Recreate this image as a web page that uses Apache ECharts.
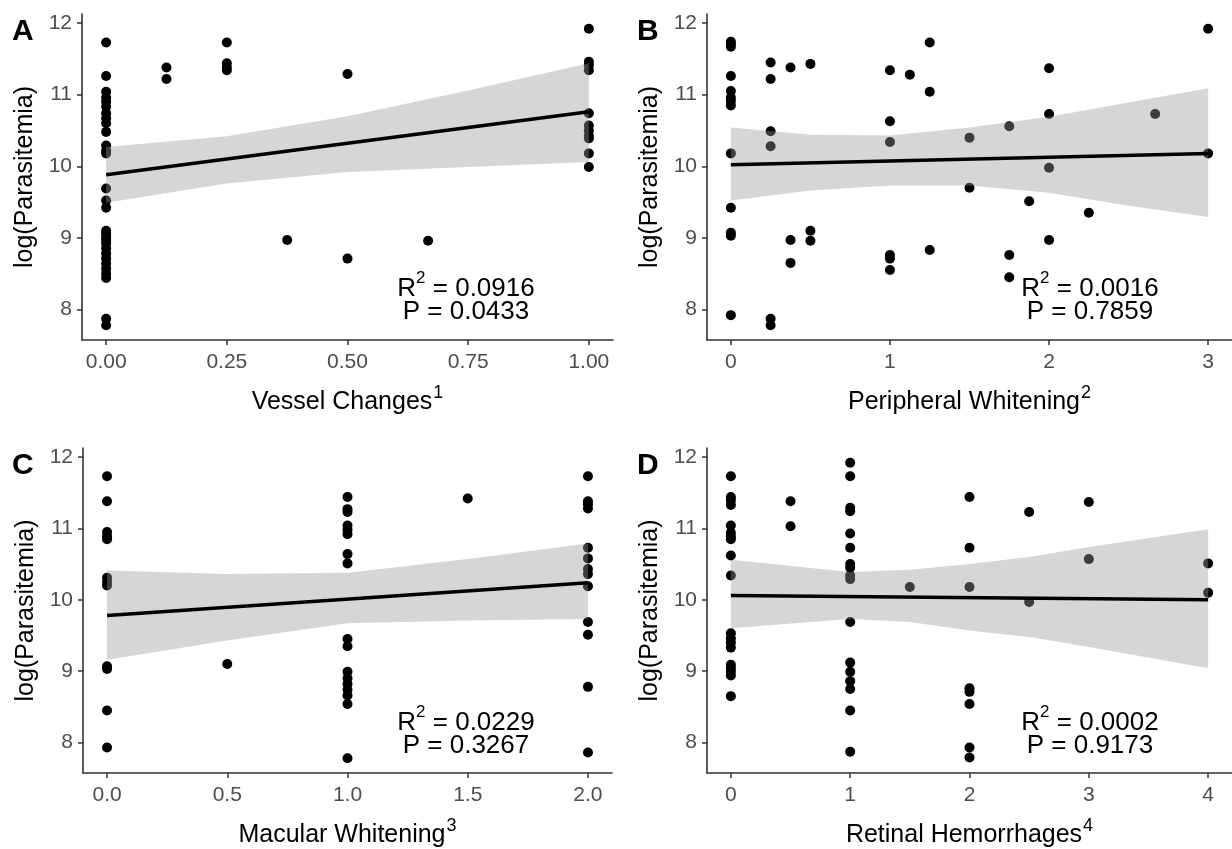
<!DOCTYPE html>
<html>
<head>
<meta charset="utf-8">
<script src="https://cdn.jsdelivr.net/npm/echarts@6/dist/echarts.min.js"></script>
<style>
html,body{margin:0;padding:0;background:#fff;}
#chart{width:1232px;height:849px;}
</style>
</head>
<body>
<div id="chart"></div>
<script>
// ---------- Data ----------
// Panel A: Vessel Changes
var vesselX = [0,0,0,0,0,0,0,0,0,0,0,0,0,0,0,0,0,0,0,0,0,0,0,0,0,0,0,0,0,0,
  0.125,0.125, 0.25,0.25,0.25,0.25, 0.375, 0.5,0.5, 0.667,
  1,1,1,1,1,1,1,1,1,1,1];
var vesselY = [11.73,11.26,11.04,10.96,10.90,10.83,10.74,10.67,10.60,10.48,10.29,10.22,10.18,9.69,9.52,9.42,9.10,9.06,9.01,8.97,8.92,8.85,8.78,8.71,8.64,8.57,8.50,8.44,7.87,7.78,
  11.38,11.22, 11.73,11.44,11.38,11.34, 8.97, 11.29,8.71, 8.96,
  11.92,11.46,11.41,11.34,10.74,10.57,10.50,10.43,10.39,10.18,9.99];
var vesselFitX = [0, 1];
var vesselFitY = [9.88, 10.76];
var vesselBandX = [0, 0.25, 0.5, 0.75, 1];
var vesselBandUp = [10.27, 10.42, 10.70, 11.06, 11.44];
var vesselBandLo = [9.49, 9.76, 9.92, 9.99, 10.06];

// Panel B: Peripheral Whitening
var periphX = [0,0,0,0,0,0,0,0,0,0,0,0,0,
  0.25,0.25,0.25,0.25,0.25,0.25, 0.375,0.375,0.375, 0.5,0.5,0.5,
  1,1,1,1,1,1, 1.125, 1.25,1.25,1.25, 1.5,1.5, 1.75,1.75,1.75, 1.875,
  2,2,2,2, 2.25, 2.667, 3,3];
var periphY = [11.74,11.71,11.67,11.26,11.05,10.96,10.91,10.85,10.18,9.42,9.07,9.03,7.92,
  11.45,11.22,10.49,10.28,7.87,7.78, 11.38,8.97,8.65, 11.43,9.10,8.96,
  11.34,10.63,10.34,8.76,8.71,8.55, 11.28, 11.73,11.04,8.83, 10.40,9.70, 10.56,8.76,8.45, 9.51,
  11.37,10.73,9.98,8.97, 9.35, 10.73, 11.92,10.18];
var periphFitX = [0, 3];
var periphFitY = [10.02, 10.18];
var periphBandX = [0, 0.5, 1, 1.5, 2, 2.5, 3];
var periphBandUp = [10.54, 10.44, 10.43, 10.54, 10.69, 10.89, 11.09];
var periphBandLo = [9.52, 9.66, 9.73, 9.73, 9.63, 9.45, 9.29];

// Panel C: Macular Whitening
var macularX = [0,0,0,0,0,0,0,0,0,0,0,0,
  0.5,
  1,1,1,1,1,1,1,1,1,1,1,1,1,1,1,1,1,
  1.5,
  2,2,2,2,2,2,2,2,2,2,2,2,2];
var macularY = [11.73,11.38,10.95,10.89,10.85,10.31,10.25,10.20,9.07,9.03,8.45,7.93,
  9.10,
  11.44,11.27,11.23,11.04,10.98,10.92,10.64,10.51,9.45,9.35,8.99,8.90,8.82,8.74,8.66,8.54,7.78,
  11.42,
  11.73,11.38,11.34,11.28,10.73,10.58,10.43,10.36,10.19,9.69,9.51,8.78,7.86];
var macularFitX = [0, 2];
var macularFitY = [9.78, 10.24];
var macularBandX = [0, 0.5, 1, 1.5, 2];
var macularBandUp = [10.41, 10.36, 10.38, 10.57, 10.79];
var macularBandLo = [9.16, 9.43, 9.67, 9.71, 9.73];

// Panel D: Retinal Hemorrhages
var hemX = [0,0,0,0,0,0,0,0,0,0,0,0,0,0,0,0,0,0,0,
  0.5,0.5,
  1,1,1,1,1,1,1,1,1,1,1,1,1,1,1,1,1,
  1.5,
  2,2,2,2,2,2,2,2,
  2.5,2.5, 3,3, 4,4];
var hemY = [11.73,11.44,11.40,11.33,11.04,10.94,10.89,10.85,10.62,10.34,9.53,9.46,9.40,9.33,9.09,9.04,8.99,8.94,8.65,
  11.38,11.03,
  11.92,11.73,11.29,11.24,10.93,10.73,10.50,10.45,10.34,10.29,9.69,9.12,8.99,8.86,8.75,8.45,7.87,
  10.18,
  11.44,10.73,10.18,8.76,8.71,8.54,7.93,7.79,
  11.23,9.97, 11.37,10.57, 10.51,10.10];
var hemFitX = [0, 4];
var hemFitY = [10.06, 10.00];
var hemBandX = [0, 1, 1.5, 2, 2.5, 3, 4];
var hemBandUp = [10.56, 10.39, 10.42, 10.50, 10.60, 10.74, 10.99];
var hemBandLo = [9.60, 9.73, 9.69, 9.57, 9.48, 9.34, 9.04];

// Axis ticks / labels
var yTicks = [8, 9, 10, 11, 12];
var vesselTicks = [0, 0.25, 0.5, 0.75, 1];
var periphTicks = [0, 1, 2, 3];
var macularTicks = [0, 0.5, 1, 1.5, 2];
var hemTicks = [0, 1, 2, 3, 4];
var yRange = [7.573, 12.127];

var panelLetters = ['A', 'B', 'C', 'D'];
var xTitles = ['Vessel Changes', 'Peripheral Whitening', 'Macular Whitening', 'Retinal Hemorrhages'];
var xTitleSup = ['1', '2', '3', '4'];
var yTitle = 'log(Parasitemia)';
var r2Text = ['0.0916', '0.0016', '0.0229', '0.0002'];
var pText = ['0.0433', '0.7859', '0.3267', '0.9173'];

// ---------- Build chart ----------
var FONT = "'Liberation Sans', Arial, sans-serif";
var panels = [
  {x: vesselX, y: vesselY, fx: vesselFitX, fy: vesselFitY, bx: vesselBandX, bu: vesselBandUp, bl: vesselBandLo,
   ticks: vesselTicks, range: [-0.05, 1.05], fmt: function (v) { return v.toFixed(2); },
   grid: {left: 82, top: 14, width: 531, height: 326}, ann: [466, 302], letter: [12, 17]},
  {x: periphX, y: periphY, fx: periphFitX, fy: periphFitY, bx: periphBandX, bu: periphBandUp, bl: periphBandLo,
   ticks: periphTicks, range: [-0.15, 3.15], fmt: function (v) { return String(v); },
   grid: {left: 707, top: 14, width: 528, height: 326}, ann: [1090, 302], letter: [637, 17]},
  {x: macularX, y: macularY, fx: macularFitX, fy: macularFitY, bx: macularBandX, bu: macularBandUp, bl: macularBandLo,
   ticks: macularTicks, range: [-0.1, 2.1], fmt: function (v) { return v.toFixed(1); },
   grid: {left: 83, top: 448, width: 529, height: 327}, ann: [466, 736], letter: [12, 451]},
  {x: hemX, y: hemY, fx: hemFitX, fy: hemFitY, bx: hemBandX, bu: hemBandUp, bl: hemBandLo,
   ticks: hemTicks, range: [-0.2, 4.2], fmt: function (v) { return String(v); },
   grid: {left: 707, top: 448, width: 528, height: 327}, ann: [1090, 736], letter: [637, 451]}
];

var grids = [], xAxes = [], yAxes = [], series = [], graphics = [];
panels.forEach(function (p, i) {
  grids.push(p.grid);
  xAxes.push({
    type: 'value', gridIndex: i, min: p.range[0], max: p.range[1],
    name: '{m|' + xTitles[i] + '}{s|' + xTitleSup[i] + '}',
    nameLocation: 'middle', nameGap: 44,
    nameTextStyle: {
      color: '#000', fontFamily: FONT, fontSize: 25,
      rich: {
        m: {fontSize: 25, fontFamily: FONT, color: '#000', padding: [6, 0, 0, 0], verticalAlign: 'bottom'},
        s: {fontSize: 18, fontFamily: FONT, color: '#000', verticalAlign: 'top', padding: [0, 0, 0, 1]}
      }
    },
    axisLine: {show: true, onZero: false, lineStyle: {color: '#333', width: 1.6}},
    axisTick: {show: true, length: 5, customValues: p.ticks, lineStyle: {color: '#333', width: 1.5}},
    axisLabel: {show: true, customValues: p.ticks, formatter: p.fmt, color: '#4d4d4d', fontSize: 21, fontFamily: FONT, margin: 12},
    splitLine: {show: false}
  });
  yAxes.push({
    type: 'value', gridIndex: i, min: yRange[0], max: yRange[1],
    name: yTitle, nameLocation: 'middle', nameGap: 44, nameRotate: 90,
    nameTextStyle: {color: '#000', fontFamily: FONT, fontSize: 25},
    axisLine: {show: true, onZero: false, lineStyle: {color: '#333', width: 1.6}},
    axisTick: {show: true, length: 5, customValues: yTicks, lineStyle: {color: '#333', width: 1.5}},
    axisLabel: {show: true, customValues: yTicks, color: '#4d4d4d', fontSize: 21, fontFamily: FONT, margin: 10},
    splitLine: {show: false}
  });
  var pts = p.x.map(function (xv, k) { return [xv, p.y[k]]; });
  series.push({
    type: 'scatter', xAxisIndex: i, yAxisIndex: i, data: pts, symbolSize: 10,
    itemStyle: {color: '#000', opacity: 1}, z: 2, silent: true
  });
  (function (p) {
    series.push({
      type: 'custom', xAxisIndex: i, yAxisIndex: i, z: 3, silent: true, clip: true,
      data: [[p.bx[0], p.bl[0]]],
      renderItem: function (params, api) {
        var poly = [];
        for (var k = 0; k < p.bx.length; k++) poly.push(api.coord([p.bx[k], p.bu[k]]));
        for (var k2 = p.bx.length - 1; k2 >= 0; k2--) poly.push(api.coord([p.bx[k2], p.bl[k2]]));
        return {type: 'polygon', shape: {points: poly}, style: {fill: '#999999', opacity: 0.4}};
      }
    });
  })(p);
  series.push({
    type: 'line', xAxisIndex: i, yAxisIndex: i, z: 4, silent: true,
    data: p.fx.map(function (xv, k) { return [xv, p.fy[k]]; }),
    symbol: 'none', lineStyle: {color: '#000', width: 3.5}
  });
  graphics.push({
    type: 'text', left: p.letter[0], top: p.letter[1],
    style: {text: panelLetters[i], font: 'bold 30px ' + FONT, fill: '#000'}
  });
  graphics.push({
    type: 'text', x: p.ann[0], y: p.ann[1],
    style: {
      text: '{m|R}{s|2}{m| = ' + r2Text[i] + '}',
      align: 'center', verticalAlign: 'bottom',
      rich: {
        m: {fontSize: 26, fontFamily: FONT, fill: '#000', padding: [6, 0, 0, 0], verticalAlign: 'bottom'},
        s: {fontSize: 17, fontFamily: FONT, fill: '#000', verticalAlign: 'top'}
      }
    }
  });
  graphics.push({
    type: 'text', x: p.ann[0], y: p.ann[1] + 23,
    style: {
      text: 'P = ' + pText[i],
      align: 'center', verticalAlign: 'bottom',
      font: '26px ' + FONT, fill: '#000'
    }
  });
});

var chart = echarts.init(document.getElementById('chart'), null, {renderer: 'canvas'});
chart.setOption({
  animation: false,
  backgroundColor: '#fff',
  grid: grids,
  xAxis: xAxes,
  yAxis: yAxes,
  series: series,
  graphic: graphics
});
</script>
</body>
</html>
